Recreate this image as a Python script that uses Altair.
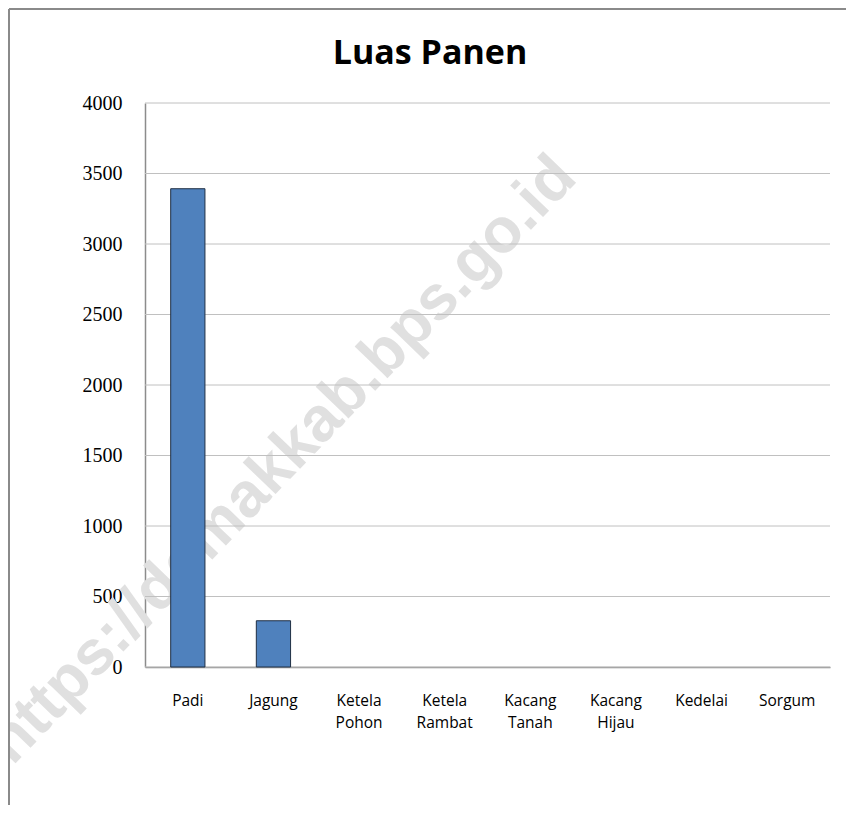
import altair as alt
import pandas as pd

categories = ["Padi", "Jagung", "Ketela Pohon", "Ketela Rambat", "Kacang Tanah",
              "Kacang Hijau", "Kedelai", "Sorgum"]
values = [3392, 328, 0, 0, 0, 0, 0, 0]
y_ticks = [0, 500, 1000, 1500, 2000, 2500, 3000, 3500, 4000]
title_text = "Luas Panen"
watermark = "https://demakkab.bps.go.id"

df = pd.DataFrame({"kategori": categories, "nilai": values})
wm = pd.DataFrame({"t": [watermark]})
tt = pd.DataFrame({"t": [title_text]})
grid_df = pd.DataFrame({"nilai": y_ticks})

W, H = 685, 564
X0, Y0 = 145, 103  # page position of plot area

x_enc = alt.X("kategori:N", sort=categories, title=None,
              scale=alt.Scale(paddingInner=0.6, paddingOuter=0.3),
              axis=alt.Axis(labelAngle=0, labelExpr="split(datum.label, ' ')",
                            labelLineHeight=22, labelFontSize=15.5, labelFont="Open Sans",
                            labelColor="#000000", labelPadding=26, ticks=False,
                            domainColor="#8c8c8c", domainWidth=1.5, labelBaseline="top"))
y_scale = alt.Scale(domain=[0, 4000], nice=False)
y_axis = alt.Axis(values=y_ticks, format="d", labelFontSize=20,
                  labelFont="Liberation Serif", labelColor="#000000", ticks=False,
                  labelPadding=23, grid=False,
                  domainColor="#8c8c8c", domainWidth=1.5)
y_enc = alt.Y("nilai:Q", title=None, scale=y_scale, axis=y_axis)

watermark_layer = alt.Chart(wm).mark_text(
    font="Liberation Sans", fontWeight="bold", fontSize=63, color="#e0e0e0",
    angle=314, align="center", baseline="middle"
).encode(text="t:N", x=alt.value(282 - X0), y=alt.value(460 - Y0))

grid_layer = alt.Chart(grid_df).mark_rule(color="#c0c0c0", strokeWidth=1).encode(
    y=y_enc,
    x=alt.value(0), x2=alt.value(W),
)

bars = alt.Chart(df).mark_bar(color="#4f81bd", stroke="#1f2f44").encode(
    x=x_enc, y=y_enc,
    strokeWidth=alt.condition("datum.nilai > 0", alt.value(1), alt.value(0)),
)

title_layer = alt.Chart(tt).mark_text(
    font="Open Sans", fontWeight="bold", fontSize=34, color="#000000",
    align="center", baseline="middle"
).encode(text="t:N", x=alt.value(430 - X0), y=alt.value(54 - Y0))

frame_left = alt.Chart(wm).mark_rule(color="#8a8a8a", strokeWidth=2).encode(
    x=alt.value(9 - X0), y=alt.value(9 - Y0), y2=alt.value(805 - Y0)
)
frame_top = alt.Chart(wm).mark_rule(color="#8a8a8a", strokeWidth=2).encode(
    x=alt.value(9 - X0), x2=alt.value(846 - X0), y=alt.value(9 - Y0)
)

chart = alt.layer(watermark_layer, grid_layer, bars, title_layer, frame_left, frame_top).properties(
    width=W, height=H,
    autosize=alt.AutoSizeParams(type="none"),
    padding={"left": X0 - 8, "top": Y0 - 8, "right": 16, "bottom": 138},
).configure_view(stroke=None)

chart.save("out.html", embed_options={"renderer": "svg", "actions": False})
